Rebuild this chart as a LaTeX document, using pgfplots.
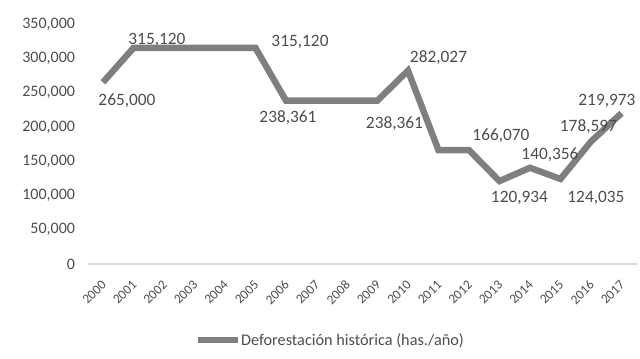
\documentclass[border=0pt]{standalone}
\usepackage{pgfplots}
\usepackage{pgfplotstable}
\pgfplotsset{compat=1.18}
\usepackage{fontspec}
\setmainfont{Carlito}
\definecolor{txt}{HTML}{4D4D4D}
\definecolor{ln}{HTML}{7F7F7F}
\pgfplotstableread{
x y
0 265000
1 315120
2 315120
3 315120
4 315120
5 315120
6 238361
7 238361
8 238361
9 238361
10 282027
11 166070
12 166070
13 120934
14 140356
15 124035
16 178597
17 219973
}\datatab
\pgfplotstableread{
x y label dx dy
0 265000 265,000 18 -13.5
1 315120 315,120 17.6 6
5 315120 315,120 33.4 4.5
6 238361 238,361 1.5 -13
9 238361 238,361 12.75 -17.6
10 282027 282,027 22.9 9.4
12 166070 166,070 24 10.5
13 120934 120,934 15 -12.75
14 140356 140,356 15 9.5
15 124035 124,035 26.6 -14.25
16 178597 178,597 -1.9 10.9
17 219973 219,973 -10.9 9
}\labtab
\begin{document}
\begin{tikzpicture}
\begin{axis}[
  scale only axis, width=411.75pt, height=180pt,
  at={(0,0)}, anchor=south west,
  xmin=-0.5, xmax=17.5, ymin=0, ymax=350000,
  clip=false,
  axis x line*=bottom, axis y line*=left,
  x axis line style={-, draw=black!15, line width=0.8pt},
  y axis line style={draw=none},
  major tick length=0pt,
  xtick={0,...,17},
  xticklabels={2000,2001,2002,2003,2004,2005,2006,2007,2008,2009,2010,2011,2012,2013,2014,2015,2016,2017},
  ytick={0,50000,...,350000},
  scaled y ticks=false,
  /pgf/number format/.cd, fixed, 1000 sep={,}, assume math mode=true, /pgfplots/.cd,
  yticklabel style={font=\fontsize{12}{14}\selectfont, text=txt, anchor=east, xshift=-6pt},
  xticklabel style={font=\fontsize{10}{12}\selectfont, text=txt, xshift=0.75pt, yshift=-14pt, rotate=45, anchor=east, inner sep=0pt},
  legend style={at={(axis description cs:0.441,-0.317)}, anchor=center, draw=none, fill=none,
    font=\fontsize{12.2}{14}\selectfont, text=txt, legend columns=1, nodes={inner xsep=0.5pt}},
  legend image code/.code={\draw[#1, line width=4pt] (0pt,0pt) -- (30pt,0pt);},
]
\addplot[ln, line width=4.8pt, line join=miter, mark=none] table[x=x,y=y]{\datatab};
\addlegendentry{Deforestación histórica (has./año)}
\addplot[draw=none, mark=none, forget plot,
  nodes near coords, point meta=explicit symbolic,
  visualization depends on={\thisrow{dx} \as \dx},
  visualization depends on={\thisrow{dy} \as \dy},
  every node near coord/.append style={anchor=center, xshift=\dx pt, yshift=\dy pt,
    font=\fontsize{13}{15}\selectfont, text=txt, inner sep=0pt}]
  table[x=x,y=y,meta=label]{\labtab};
\end{axis}
\pgfresetboundingbox
\useasboundingbox (-65.8pt,-70.5pt) rectangle (414.2pt,198pt);
\end{tikzpicture}
\end{document}
